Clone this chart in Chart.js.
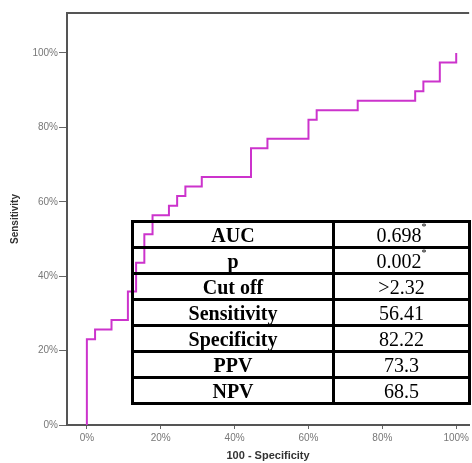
<!DOCTYPE html>
<html>
<head>
<meta charset="utf-8">
<script src="https://cdn.jsdelivr.net/npm/chart.js@4/dist/chart.umd.min.js"></script>
<style>
  html, body { margin: 0; padding: 0; background: #fff; }
  #wrap { position: relative; width: 472px; height: 463px; overflow: hidden; }
  #c { position: absolute; left: 0; top: 0; }
  #stats {
    position: absolute; left: 131px; top: 220px;
    border-collapse: collapse; table-layout: fixed;
    font-family: "Liberation Serif", "Times New Roman", serif;
    font-size: 20px; color: #000; background: transparent;
  }
  #stats tr { height: 26px; }
  #stats td {
    border: 3px solid #000; padding: 0; line-height: 20px;
    text-align: center; vertical-align: middle;
  }
  #stats td.lab { font-weight: bold; width: 198px; }
  #stats td.val { width: 133px; }
  #stats sup { font-size: 10px; vertical-align: top; line-height: 10px; position: relative; top: -3px; }
</style>
</head>
<body>
<div id="wrap">
  <canvas id="c" width="472" height="463"></canvas>
  <table id="stats"></table>
</div>
<script>
// ROC curve points: 100 - specificity (%) and sensitivity (%)
const falsePositiveRate = [0, 0, 2.22, 6.67, 11.11, 13.33, 15.56, 17.78, 22.22, 24.44, 26.67, 31.11, 44.44, 48.89, 60.00, 62.22, 73.33, 88.89, 91.11, 95.56, 100];
const sensitivity       = [0, 23.08, 25.64, 28.21, 35.90, 43.59, 51.28, 56.41, 58.97, 61.54, 64.10, 66.67, 74.36, 76.92, 82.05, 84.62, 87.18, 89.74, 92.31, 97.44, 100];
const tickValues = [0, 20, 40, 60, 80, 100];

// Statistics table
const statLabels = ["AUC", "p", "Cut off", "Sensitivity", "Specificity", "PPV", "NPV"];
const statValues = ["0.698", "0.002", ">2.32", "56.41", "82.22", "73.3", "68.5"];
const statStars  = [true, true, false, false, false, false, false];

// build the table
const tbl = document.getElementById('stats');
statLabels.forEach((lab, i) => {
  const tr = document.createElement('tr');
  const a = document.createElement('td'); a.className = 'lab'; a.textContent = lab;
  const b = document.createElement('td'); b.className = 'val';
  b.appendChild(document.createTextNode(statValues[i]));
  if (statStars[i]) { const s = document.createElement('sup'); s.textContent = '*'; b.appendChild(s); }
  tr.appendChild(a); tr.appendChild(b); tbl.appendChild(tr);
});

// step path built from ROC points (vertical rise at each false positive rate)
const stepData = [{ x: falsePositiveRate[0], y: sensitivity[0] }];
for (let i = 1; i < falsePositiveRate.length; i++) {
  stepData.push({ x: falsePositiveRate[i], y: sensitivity[i - 1] });
  stepData.push({ x: falsePositiveRate[i], y: sensitivity[i] });
}

const framePlugin = {
  id: 'frame',
  afterDraw(chart) {
    const { ctx, chartArea } = chart;
    ctx.save();
    ctx.strokeStyle = '#555';
    ctx.lineWidth = 2;
    ctx.beginPath();
    ctx.moveTo(chartArea.left, chartArea.top);
    ctx.lineTo(chartArea.right, chartArea.top);
    ctx.stroke();
    ctx.restore();
  }
};

const setTicks = (scale) => { scale.ticks = tickValues.map(v => ({ value: v })); };

new Chart(document.getElementById('c'), {
  type: 'scatter',
  data: {
    datasets: [{
      data: stepData,
      showLine: true,
      borderColor: '#cc33cc',
      borderWidth: 2,
      pointRadius: 0,
      fill: false,
      tension: 0
    }]
  },
  options: {
    responsive: false,
    animation: false,
    layout: { padding: { left: 0, top: 13, right: 0, bottom: 0 } },
    plugins: { legend: { display: false }, tooltip: { enabled: false } },
    scales: {
      x: {
        type: 'linear',
        min: -5.38, max: 103.5,
        afterBuildTicks: setTicks,
        afterFit: (s) => { s.height = 38; },
        grid: { drawOnChartArea: false, drawTicks: true, tickLength: 4, color: '#666' },
        border: { display: true, color: '#555', width: 2 },
        ticks: { color: '#777', font: { family: 'Arial, "Liberation Sans"', size: 10 }, padding: 3, maxRotation: 0,
                 callback: (v) => v + '%' },
        title: { display: true, text: '100 - Specificity', color: '#333',
                 font: { family: 'Arial, "Liberation Sans"', size: 11, weight: 'bold' }, padding: { top: 0, bottom: 0 } }
      },
      y: {
        type: 'linear',
        min: 0, max: 110.75,
        afterBuildTicks: setTicks,
        afterFit: (s) => { s.width = 67; },
        grid: { drawOnChartArea: false, drawTicks: true, tickLength: 8, color: '#666' },
        border: { display: true, color: '#555', width: 2 },
        ticks: { color: '#777', font: { family: 'Arial, "Liberation Sans"', size: 10 }, padding: 1,
                 callback: (v) => v + '%' },
        title: { display: true, text: 'Sensitivity', color: '#333',
                 font: { family: 'Arial, "Liberation Sans"', size: 10, weight: 'bold' }, padding: { top: 9, bottom: 0 } }
      }
    }
  },
  plugins: [framePlugin]
});
</script>
</body>
</html>
